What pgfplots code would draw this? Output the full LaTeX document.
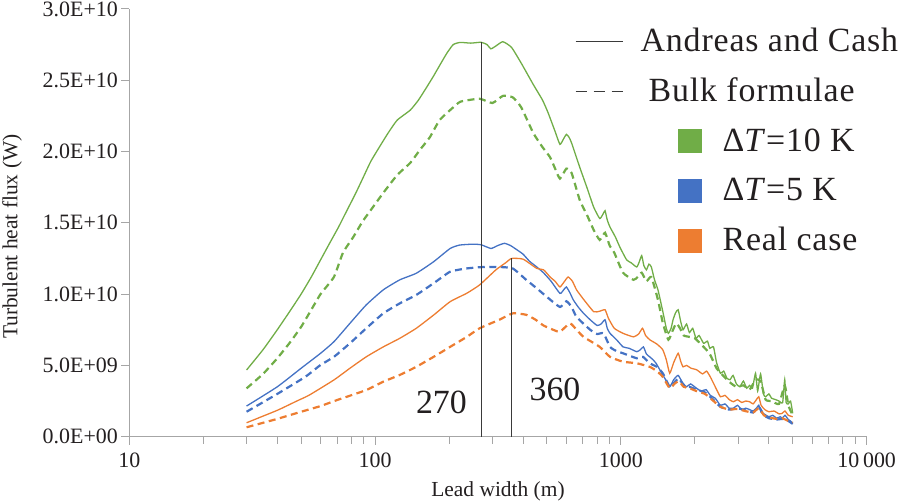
\documentclass[border=0pt]{standalone}
\usepackage{fontspec}
\setmainfont{Liberation Serif}
\usepackage{pgfplots}
\pgfplotsset{compat=1.18}
\definecolor{cgreen}{HTML}{70AD47}
\definecolor{cblue}{HTML}{4472C4}
\definecolor{corange}{HTML}{ED7D31}
\definecolor{axisgray}{HTML}{A6A6A6}
\definecolor{txt}{HTML}{231F20}
\definecolor{vline}{HTML}{3A3A3A}
\pgfplotsset{
  lineleg/.style={legend image code/.code={%
    \draw[##1] (0bp,0bp) -- (47bp,0bp); \path[draw=none, fill=none] (0bp,-24.85bp) rectangle (147bp,24.85bp);}},
  boxleg/.style={legend image code/.code={%
    \fill[##1, draw=none] (102bp,-12bp) rectangle (126bp,12bp); \path[draw=none, fill=none] (0bp,-24.85bp) rectangle (147bp,24.85bp);}},
  curve/.style={smooth, tension=0.3, forget plot},
}
\begin{document}
\begin{tikzpicture}
\path[use as bounding box] (-129.3bp,-66.3bp) rectangle (771.7bp,436.7bp);
\begin{axis}[
  scale only axis, width=737.4bp, height=427.8bp,
  xmode=log, xmin=10, xmax=10000, ymin=0, ymax=30,
  axis lines*=left,
  axis line style={axisgray, line width=1.3bp},
  tick align=outside,
  tick style={axisgray, line width=1bp},
  major tick length=8bp, minor tick length=7bp,
  xtick={10,100,1000,10000},
  xticklabels={10,100,1000,10\,000},
  minor xtick={20,30,40,50,60,70,80,90,200,300,400,500,600,700,800,900,2000,3000,4000,5000,6000,7000,8000,9000},
  ytick={0,5,10,15,20,25,30},
  yticklabels={0.0E+00,5.0E+09,1.0E+10,1.5E+10,2.0E+10,2.5E+10,3.0E+10},
  ticklabel style={font=\fontsize{22}{24}\selectfont, text=txt},
  xticklabel style={yshift=-5bp},
  xlabel={Lead width (m)},
  ylabel={Turbulent heat flux (W)},
  label style={font=\fontsize{21.5}{24}\selectfont, text=txt},
  xlabel style={at={(axis description cs:0.5,-0.127)}, anchor=center},
  ylabel style={at={(axis description cs:-0.159,0.4675)}, anchor=center, rotate=0},
  legend cell align=left,
  legend style={at={(0.6044,0.9814)}, anchor=north west, draw=none, fill=none,
    inner sep=0pt, outer sep=0pt, /tikz/column sep=0pt, /tikz/row sep=0pt,
    nodes={inner sep=0pt, outer sep=0pt, text height=34.85bp, text depth=14.85bp,
      font=\fontsize{34}{40}\selectfont\addfontfeature{LetterSpace=2.5}, text=txt}},
]
% green solid
\addplot[cgreen, line width=1.3bp, curve] coordinates {
(30,4.68)(35,6.1)(40,7.5)(45,8.8)(50,10.0)(55,11.2)(60,12.4)(65,13.5)(71,14.7)(77,15.9)(83,17.0)(89,18.1)(96,19.3)(104,20.3)
(113,21.3)(123,22.2)(139,22.9)(150,23.6)(162,24.5)(173,25.3)(184,26.1)(196,26.9)(208,27.5)(222,27.65)(245,27.6)
(270,27.66)(285,27.5)(296,27.2)(310,27.4)(331,27.7)(359,27.3)(393,26.2)(440,24.7)(480,23.6)(506,22.7)
(540,21.4)(565,20.5)(585,20.9)(600,21.2)(615,21.0)(630,20.6)(680,18.9)(730,17.4)(775,16.1)(820,15.3)
(845,15.6)(862,15.85)(880,15.2)(903,14.7)(950,14.0)(990,13.3)(1055,12.4)(1100,12.2)(1160,11.9)(1190,12.3)
(1215,12.7)(1240,12.0)(1270,11.7)(1300,12.1)(1330,11.9)(1370,11.0)(1415,10.3)(1480,8.8)(1530,7.6)(1560,7.25)
(1600,7.6)(1630,8.2)(1670,8.7)(1710,8.9)(1750,8.1)(1790,7.5)(1850,7.9)(1900,7.3)(1960,7.6)(2020,6.9)
(2080,7.1)(2170,6.55)(2250,6.7)(2300,6.2)(2380,6.3)(2450,5.2)(2540,4.45)(2620,4.6)(2700,4.1)(2780,4.0)
(2860,4.3)(2950,3.7)(3050,3.5)(3150,3.9)(3250,3.4)(3340,3.6)(3430,3.4)(3530,4.45)(3600,3.2)(3700,4.4)
(3800,3.0)(3880,2.8)(4000,3.0)(4100,2.7)(4260,2.6)(4400,2.5)(4550,2.4)(4640,4.0)(4700,2.4)(4800,2.3)
(4900,2.5)(5000,1.64)};
% green dashed
\addplot[cgreen, line width=2.2bp, dash pattern=on 7bp off 4.5bp, curve] coordinates {
(30,3.39)(35,4.4)(40,5.5)(45,6.6)(50,7.7)(55,8.9)(60,10.0)(68,11.2)(74,12.9)(81.5,14.0)(89,15.1)(98,16.1)
(108,17.1)(123,18.35)(139,19.2)(152,20.1)(167,21.0)(183,22.2)(208,23.1)(223,23.5)(266,23.7)
(300,23.4)(331,23.9)(363,23.8)(393,23.1)(440,21.3)(480,20.3)(515,19.6)(540,18.8)(565,18.1)(600,18.8)
(630,18.5)(680,16.6)(730,15.5)(775,14.5)(820,13.8)(862,14.3)(900,13.4)(940,12.9)(1020,11.5)(1125,11.0)
(1170,11.2)(1215,11.5)(1270,10.9)(1330,11.2)(1415,9.6)(1480,8.0)(1560,6.8)(1620,7.4)(1680,7.95)(1740,7.6)
(1800,7.1)(1900,7.0)(2000,6.9)(2170,6.3)(2300,5.8)(2450,4.8)(2600,4.3)(2780,3.8)(2950,3.5)(3150,3.6)
(3340,3.3)(3530,4.0)(3700,3.9)(3880,2.6)(4100,2.5)(4400,2.3)(4640,3.6)(4800,2.2)(5000,1.5)};
% blue solid
\addplot[cblue, line width=1.3bp, curve] coordinates {
(30,2.15)(40,3.5)(50,4.8)(60,5.85)(68,6.66)(79,7.95)(92,9.24)(108,10.3)(126,11.0)
(147,11.46)(173,12.27)(202,13.2)(221,13.44)(250,13.5)(270,13.46)(296,13.2)(315,13.4)
(336,13.56)(356,13.4)(378,13.1)(400,12.8)(425,12.3)(455,11.9)(484,11.5)(520,10.9)(565,10.05)(585,10.3)
(600,10.5)(620,10.1)(640,9.6)(670,9.1)(705,8.65)(750,8.2)(800,7.8)(830,7.9)(862,8.2)(880,7.6)
(903,7.25)(960,6.8)(1020,6.3)(1080,6.2)(1160,5.96)(1200,6.1)(1235,6.3)(1270,5.8)(1310,5.6)(1350,5.4)
(1390,5.15)(1450,4.6)(1520,4.0)(1580,3.5)(1640,4.0)(1710,4.3)(1780,3.8)(1850,3.5)(1920,3.7)(2030,3.4)
(2120,3.2)(2220,3.3)(2310,2.9)(2420,2.7)(2540,2.2)(2650,2.3)(2760,2.0)(2870,2.0)(2980,2.2)(3100,1.9)
(3220,2.0)(3340,1.9)(3450,1.8)(3560,2.0)(3640,2.2)(3720,1.7)(3820,1.6)(4000,1.4)(4150,1.5)(4300,1.3)
(4450,1.4)(4530,1.3)(4650,1.5)(4800,1.2)(4900,1.1)(5000,0.94)};
% blue dashed
\addplot[cblue, line width=2.2bp, dash pattern=on 7bp off 4.5bp, curve] coordinates {
(30,1.75)(40,3.0)(52,4.2)(60,5.03)(68,5.6)(79,6.55)(92,7.6)(108,8.65)(126,9.35)
(147,9.94)(173,10.76)(202,11.57)(236,11.8)(275,11.9)(320,11.9)(363,11.8)(412,11.0)(455,10.4)
(500,9.8)(565,9.1)(600,9.5)(630,9.1)(660,8.4)(750,7.5)(800,7.2)(850,7.25)(903,6.3)(960,6.0)
(1020,5.85)(1160,5.5)(1230,5.6)(1310,5.15)(1400,4.9)(1480,4.45)(1580,3.5)(1650,3.8)(1720,4.1)(1800,3.6)
(1900,3.5)(2030,3.3)(2200,3.1)(2310,2.8)(2540,2.1)(2760,1.9)(2980,2.0)(3200,1.85)(3450,1.7)(3640,2.1)
(3820,1.5)(4000,1.3)(4300,1.2)(4530,1.25)(4800,1.1)(5000,0.9)};
% orange solid
\addplot[corange, line width=1.3bp, curve] coordinates {
(30,0.98)(40,1.85)(48,2.5)(54,2.92)(68,3.98)(79,4.8)(92,5.6)(108,6.3)(126,6.9)(147,7.6)
(173,8.53)(202,9.47)(236,10.06)(266,10.64)(310,11.7)(340,12.2)(359,12.5)(400,12.45)(455,11.8)
(485,11.7)(515,11.2)(540,10.9)(565,10.5)(590,10.9)(610,11.2)(635,10.9)(660,10.3)(700,9.7)(775,8.77)
(820,8.8)(862,8.9)(890,8.3)(940,7.6)(1020,7.25)(1125,7.0)(1180,7.2)(1225,7.6)(1260,7.1)(1310,6.8)
(1400,6.5)(1480,6.1)(1530,5.4)(1580,4.45)(1640,5.2)(1710,5.85)(1750,5.3)(1790,4.9)(1850,5.0)(1930,4.8)
(2030,4.7)(2150,4.4)(2230,4.6)(2310,4.2)(2420,3.5)(2540,2.8)(2650,2.9)(2760,2.6)(2870,2.45)(2980,2.6)
(3100,2.4)(3220,2.5)(3340,2.45)(3450,2.3)(3560,2.6)(3640,2.8)(3720,2.2)(3850,1.9)(4000,1.75)(4200,1.8)
(4400,1.6)(4530,1.64)(4650,1.8)(4800,1.5)(5000,1.4)};
% orange dashed
\addplot[corange, line width=2.2bp, dash pattern=on 7bp off 4.5bp, curve] coordinates {
(30,0.66)(40,1.25)(50,1.75)(60,2.15)(70,2.57)(92,3.27)(108,3.86)(126,4.33)(147,4.9)(173,5.6)
(202,6.3)(236,7.0)(266,7.6)(320,8.2)(363,8.65)(412,8.55)(450,8.2)(484,7.8)(530,7.5)(565,7.36)
(620,7.95)(660,7.5)(705,7.0)(820,6.3)(903,5.6)(1020,5.26)(1160,5.15)(1310,4.9)(1400,4.6)(1480,4.2)
(1580,3.4)(1650,3.7)(1720,3.9)(1800,3.5)(1900,3.4)(2030,3.2)(2200,3.0)(2310,2.7)(2540,2.1)(2760,1.9)
(2980,1.95)(3200,1.8)(3450,1.7)(3640,2.0)(3820,1.5)(4000,1.35)(4300,1.25)(4530,1.3)(4800,1.1)(5000,1.0)};
% vertical marker lines
\addplot[vline, line width=1bp, forget plot] coordinates {(270,0)(270,27.66)};
\addplot[vline, line width=1bp, forget plot] coordinates {(360,0)(360,12.5)};
\node[anchor=base, font=\fontsize{34}{40}\selectfont, text=txt] at (axis cs:186.2,1.66) {270};
\node[anchor=base, font=\fontsize{34}{40}\selectfont, text=txt] at (axis cs:539.5,2.57) {360};
% legend
\addlegendimage{lineleg, vline, line width=1.3bp}
\addlegendentry{\hspace*{-82bp}Andreas and Cash}
\addlegendimage{lineleg, vline, line width=1.3bp, dash pattern=on 11bp off 7bp}
\addlegendentry{\hspace*{-74bp}Bulk formulae}
\addlegendimage{boxleg, cgreen}
\addlegendentry{Δ\textit{T}=10 K}
\addlegendimage{boxleg, cblue}
\addlegendentry{Δ\textit{T}=5 K}
\addlegendimage{boxleg, corange}
\addlegendentry{Real case}
\end{axis}
\end{tikzpicture}
\end{document}
